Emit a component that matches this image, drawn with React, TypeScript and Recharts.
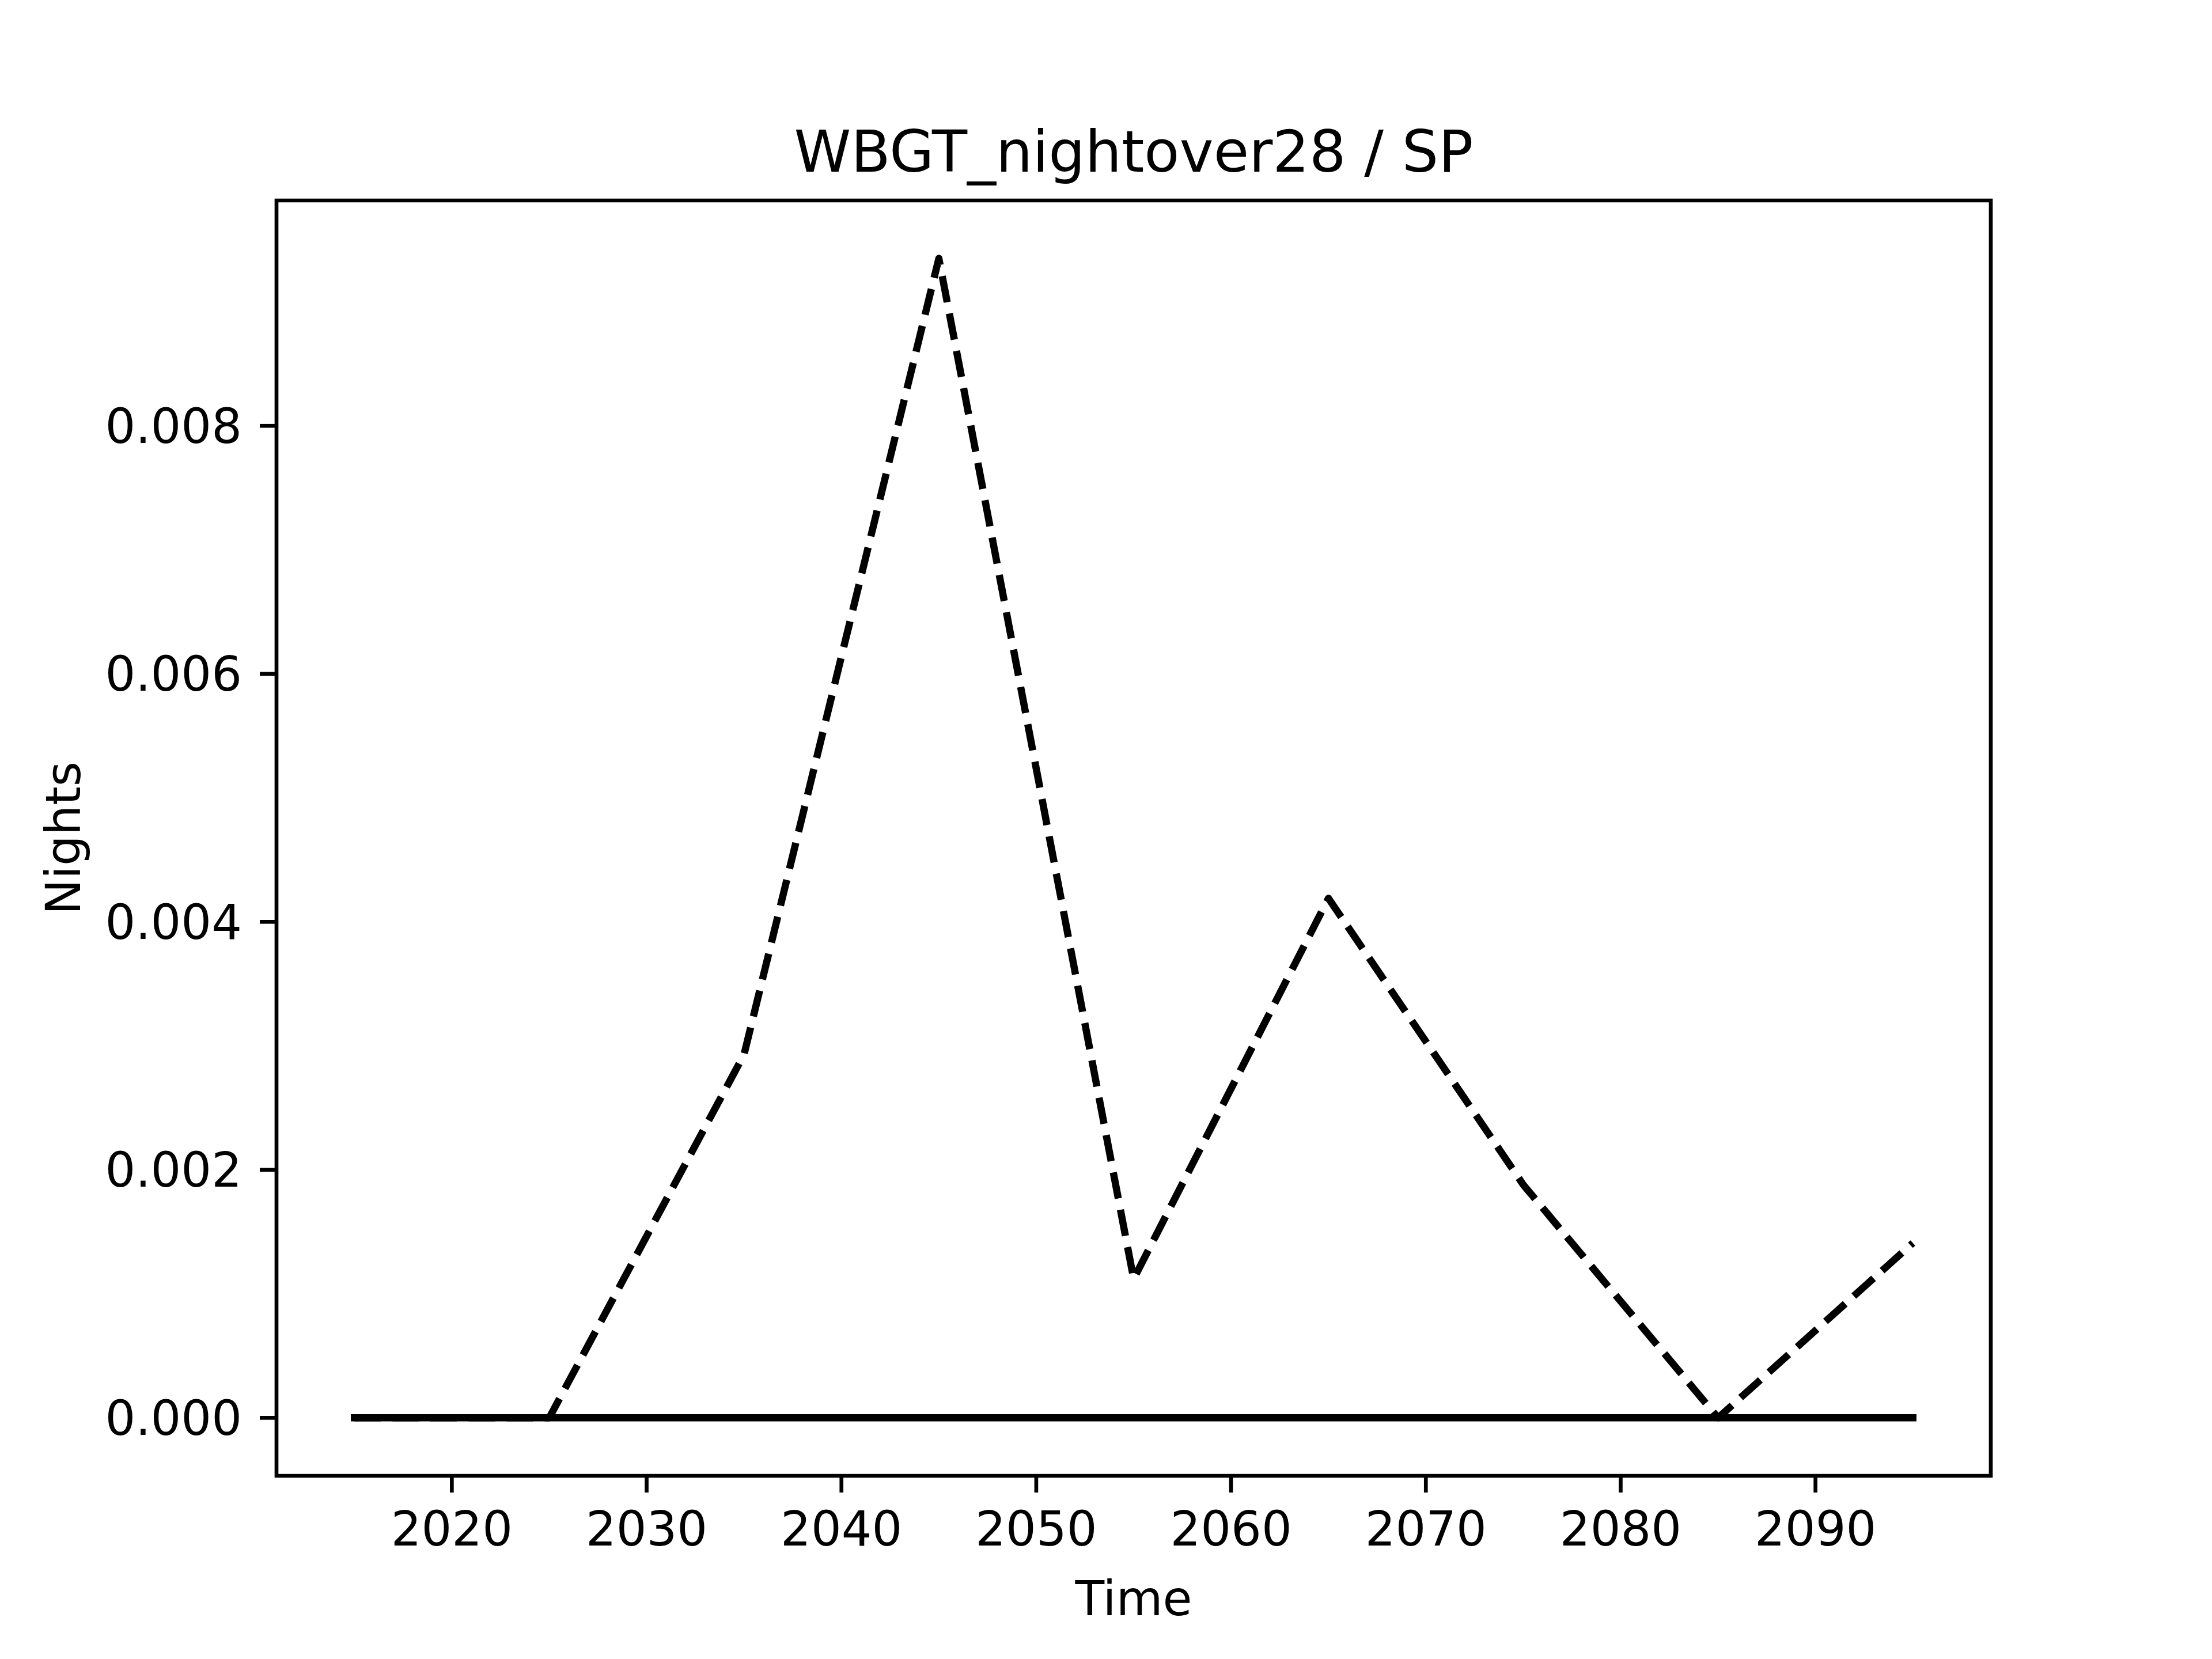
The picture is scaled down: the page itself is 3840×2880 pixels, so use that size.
import React from "react";
import { LineChart, Line, XAxis, YAxis, ReferenceArea } from "recharts";

// decade midpoints
const years = [2015, 2025, 2035, 2045, 2055, 2065, 2075, 2085, 2095];
const dashedSeries = [0, 0, 0.00293, 0.00935, 0.00112, 0.00419, 0.00188, 0, 0.00141];
const solidSeries = [0, 0, 0, 0, 0, 0, 0, 0, 0];

const xTicks = [2020, 2030, 2040, 2050, 2060, 2070, 2080, 2090];
const yTicks = [0, 0.002, 0.004, 0.006, 0.008];

const FONT = "DejaVu Sans";

const data = years.map((y, i) => ({
  year: y,
  dashed: dashedSeries[i],
  solid: solidSeries[i],
}));

// matplotlib style 5% margins
const xPad = (years[years.length - 1] - years[0]) * 0.05;
const xDomain = [years[0] - xPad, years[years.length - 1] + xPad];
const yMax = Math.max(...dashedSeries, ...solidSeries);
const yMin = Math.min(...dashedSeries, ...solidSeries);
const yPad = (yMax - yMin) * 0.05;
const yDomain = [yMin - yPad, yMax + yPad];

const tickStyle = { fill: "#000", fontSize: 83, fontFamily: FONT };
const tickLine = { stroke: "#000", strokeWidth: 6.67 };

export default function App() {
  return (
    <div
      style={{
        position: "absolute",
        left: 0,
        top: 0,
        width: 3840,
        height: 2880,
        background: "#fff",
      }}
    >
      <LineChart
        width={3840}
        height={2880}
        data={data}
        margin={{ top: 348, right: 384, bottom: 0, left: 0 }}
      >
        <XAxis
          dataKey="year"
          type="number"
          domain={xDomain}
          allowDataOverflow
          ticks={xTicks}
          height={318}
          axisLine={false}
          tickLine={tickLine}
          tickSize={29}
          tickMargin={33}
          tick={tickStyle}
        />
        <YAxis
          type="number"
          domain={yDomain}
          allowDataOverflow
          ticks={yTicks}
          width={480}
          axisLine={false}
          tickLine={tickLine}
          tickSize={29}
          tickMargin={31}
          tick={tickStyle}
          tickFormatter={(v: number) => v.toFixed(3)}
        />
        <ReferenceArea
          x1={xDomain[0]}
          x2={xDomain[1]}
          y1={yDomain[0]}
          y2={yDomain[1]}
          fill="none"
          stroke="#000"
          strokeWidth={6.67}
          ifOverflow="visible"
        />
        <Line
          dataKey="dashed"
          stroke="#000"
          strokeWidth={12.5}
          strokeDasharray="46 20"
          strokeLinejoin="round"
          dot={false}
          activeDot={false}
          isAnimationActive={false}
        />
        <Line
          dataKey="solid"
          stroke="#000"
          strokeWidth={12.5}
          strokeLinecap="square"
          dot={false}
          activeDot={false}
          isAnimationActive={false}
        />
      </LineChart>
      <svg
        width={3840}
        height={2880}
        style={{ position: "absolute", left: 0, top: 0, pointerEvents: "none" }}
      >
        <text x={1968} y={298} textAnchor="middle" fontSize={100} fontFamily={FONT} fill="#000">
          WBGT_nightover28 / SP
        </text>
        <text x={1968} y={2804} textAnchor="middle" fontSize={83} fontFamily={FONT} fill="#000">
          Time
        </text>
        <text
          x={139}
          y={1455}
          textAnchor="middle"
          fontSize={83}
          fontFamily={FONT}
          fill="#000"
          transform="rotate(-90 139 1455)"
        >
          Nights
        </text>
      </svg>
    </div>
  );
}
